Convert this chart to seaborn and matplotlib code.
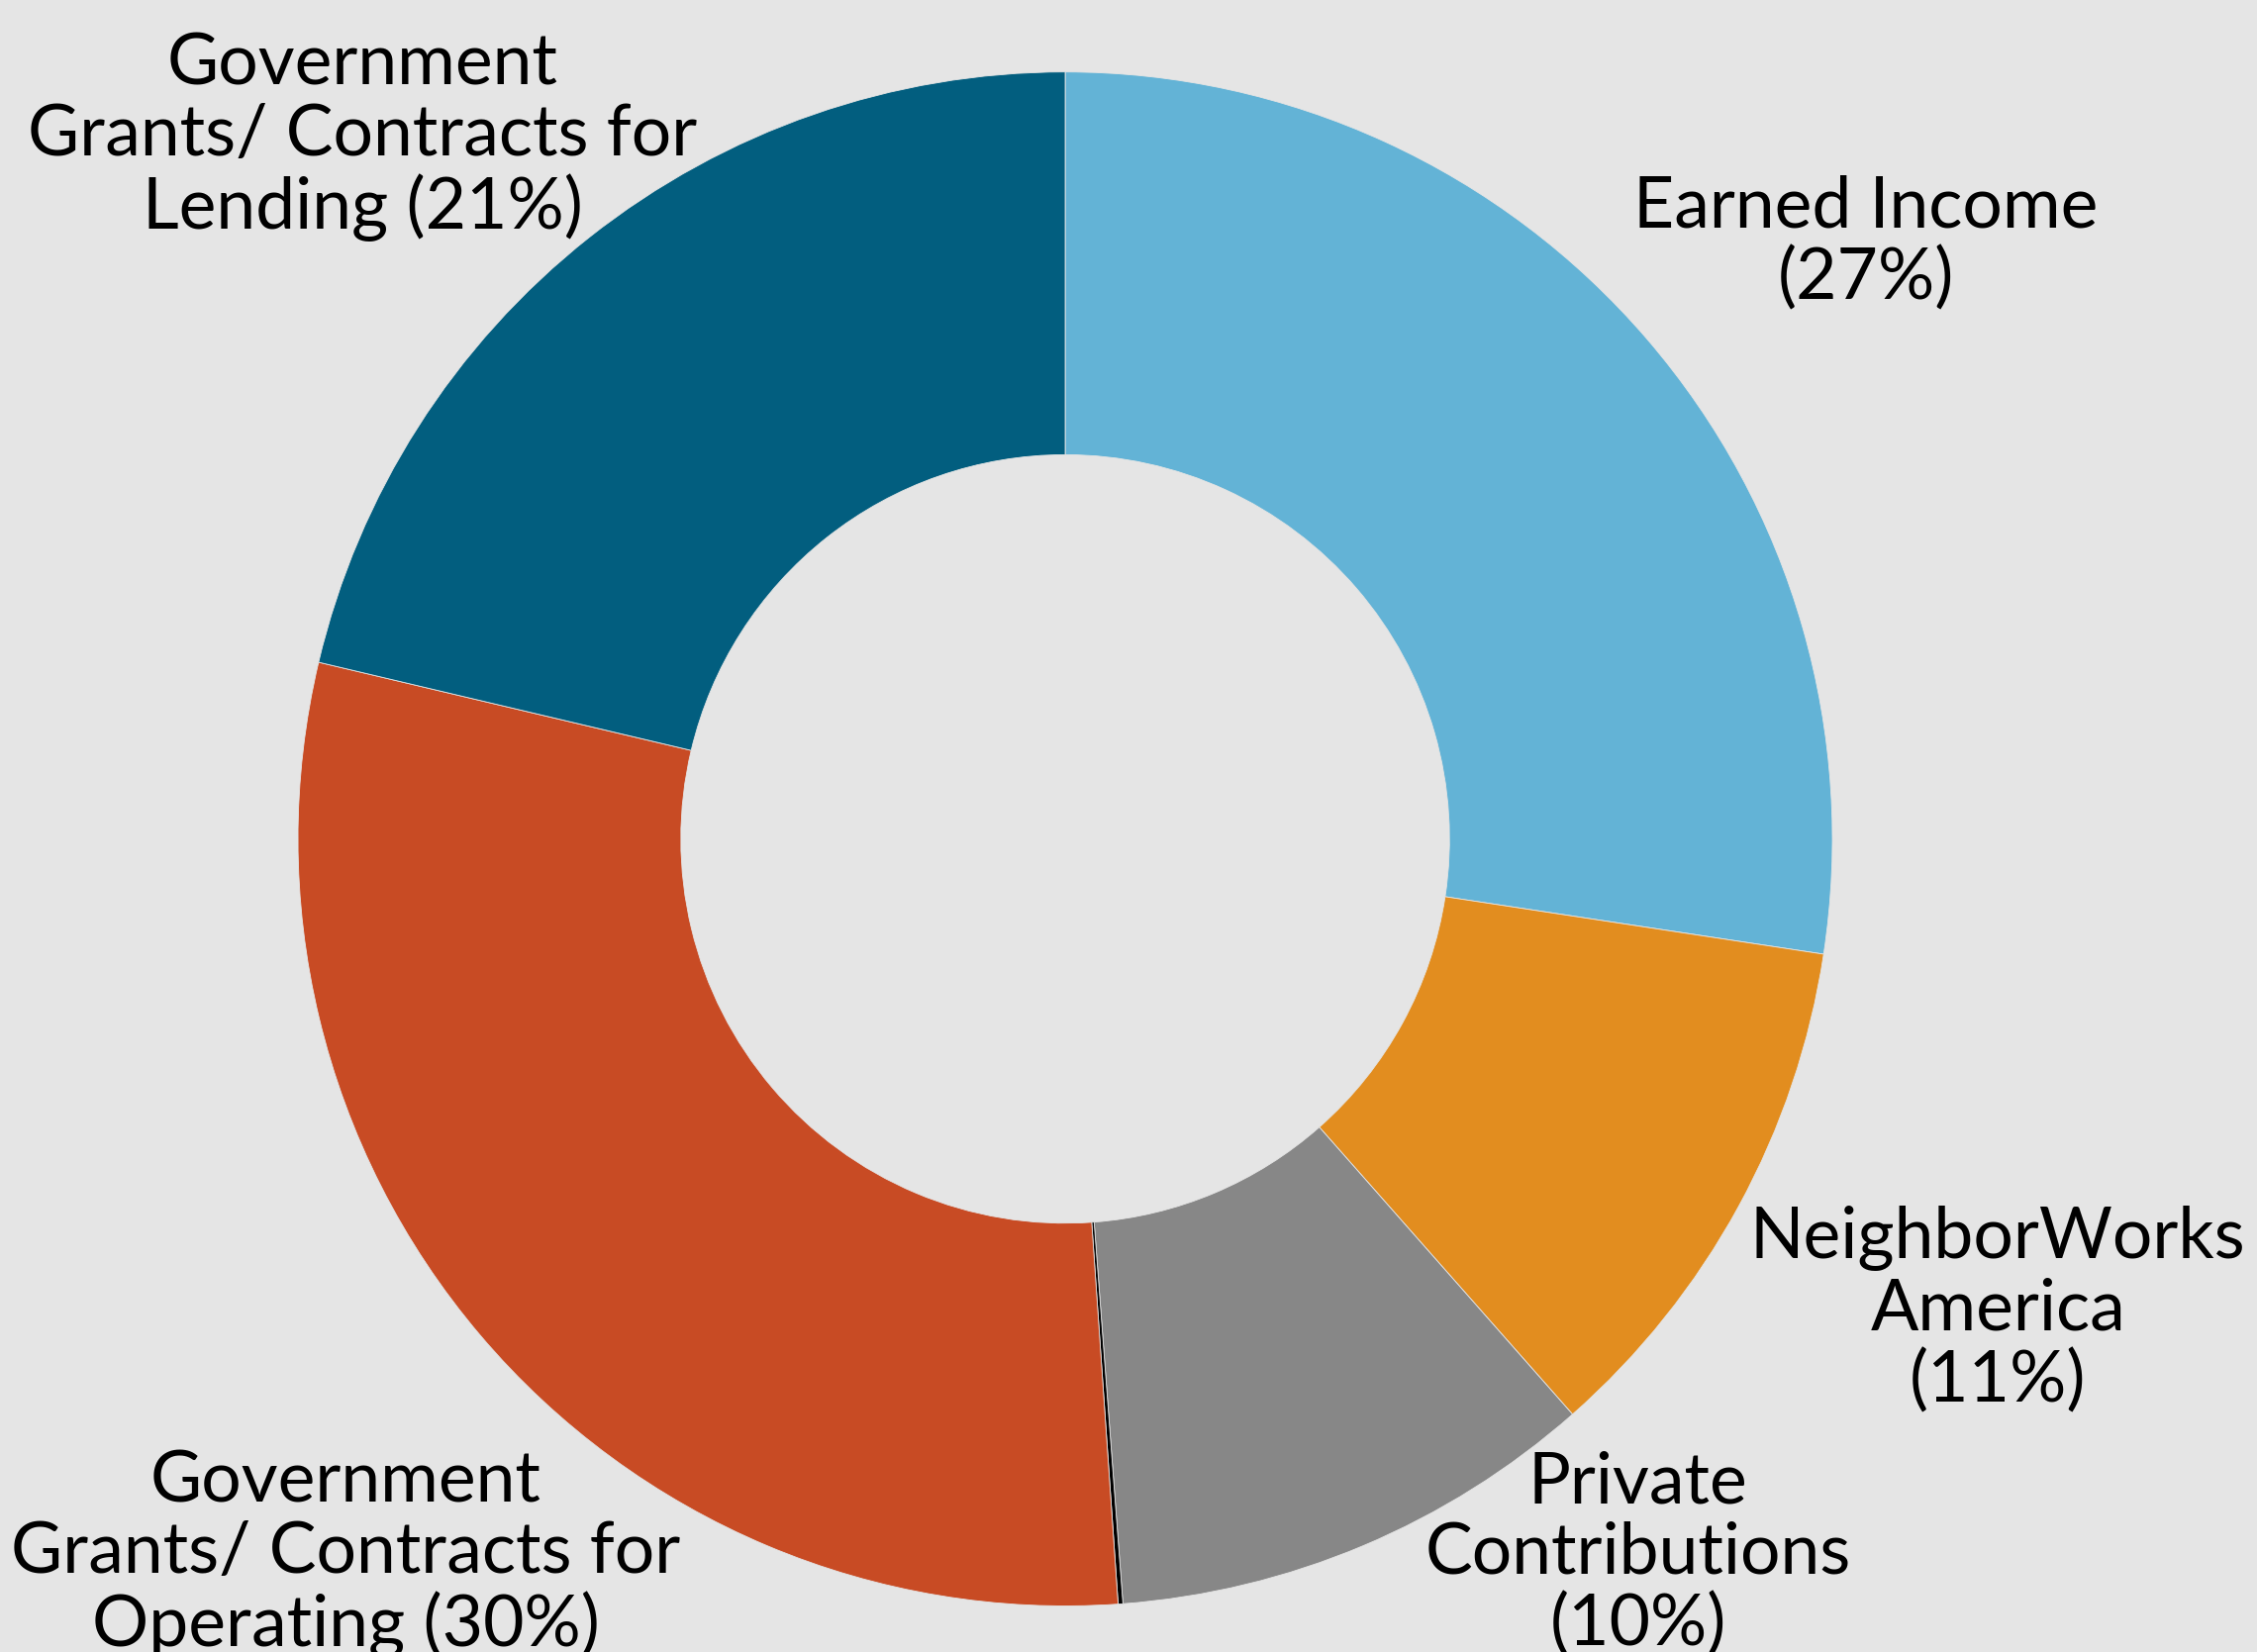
import matplotlib
matplotlib.use("Agg")
import matplotlib.pyplot as plt
import seaborn as sns

# ---- data ----
categories = [
    "Earned Income",
    "NeighborWorks America",
    "Private Contributions",
    "Other",
    "Government Grants/ Contracts for Operating",
    "Government Grants/ Contracts for Lending",
]
values = [27.4, 11.1, 10.3, 0.1, 29.8, 21.3]
label_texts = [
    "Earned Income\n(27%)",
    "NeighborWorks\nAmerica\n(11%)",
    "Private\nContributions\n(10%)",
    "",
    "Government\nGrants/ Contracts for\nOperating (30%)",
    "Government\nGrants/ Contracts for\nLending (21%)",
]
slice_colors = ["#63B3D6", "#E28D1F", "#878787", "#000000", "#C84B24", "#025E7F"]

# ---- layout (reference pixel scale 1568 x 1148) ----
label_xy = [(1296, 169), (1388, 910), (1138, 1080), None, (240, 1080), (252, 95)]
BG = "#E5E5E5"

sns.set_theme(style="white")
plt.rcParams["font.family"] = ["Lato", "DejaVu Sans"]

fig = plt.figure(figsize=(22.8, 16.69), dpi=100, facecolor=BG)
ax = fig.add_axes([0, 0, 1, 1])
ax.set_facecolor(BG)

ax.pie(
    values,
    colors=slice_colors,
    startangle=90,
    counterclock=False,
    center=(740, -583),
    radius=533,
    wedgeprops=dict(width=266, edgecolor=BG, linewidth=0.6),
)
ax.set_aspect("auto")
ax.set_xlim(0, 1568)
ax.set_ylim(-1148, 0)
ax.axis("off")

for txt, pos in zip(label_texts, label_xy):
    if not txt or pos is None:
        continue
    ax.text(pos[0], -pos[1], txt, ha="center", va="center",
            multialignment="center", fontsize=51.5, color="#000000",
            linespacing=1.12)

fig.savefig("out.png", dpi=100, facecolor=BG)
